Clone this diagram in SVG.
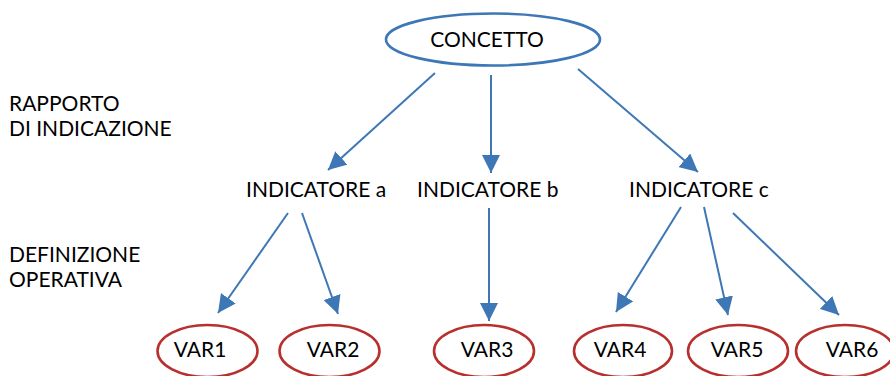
<svg xmlns="http://www.w3.org/2000/svg" width="890" height="376" viewBox="0 0 890 376">
<style>
text{font-family:Lato,"Open Sans","Liberation Sans",sans-serif;font-size:21px;fill:#000}
.c{text-anchor:middle}
.blue{fill:#fff;stroke:#3d77b6;stroke-width:2.6}
.red{fill:#fff;stroke:#b8302e;stroke-width:2.6}
.ln{stroke:#3d77b6;stroke-width:2;fill:none;marker-end:url(#ah)}
</style>
<defs>
<marker id="ah" markerUnits="userSpaceOnUse" markerWidth="18" markerHeight="18" viewBox="0 0 16 16" refX="16" refY="8" orient="auto">
<path d="M0,0 L16,8 L0,16 Z" fill="#3d77b6"/>
</marker>
</defs>
<rect width="890" height="376" fill="#fff"/>
<g id="labels">
<text x="9" y="111">RAPPORTO</text>
<text x="9" y="136">DI INDICAZIONE</text>
<text x="9" y="262">DEFINIZIONE</text>
<text x="9" y="287">OPERATIVA</text>
</g>
<g id="connectors">
<line class="ln" x1="435" y1="73" x2="328" y2="170"/>
<line class="ln" x1="491" y1="75" x2="491" y2="173"/>
<line class="ln" x1="578" y1="69" x2="698" y2="172"/>
<line class="ln" x1="288" y1="213" x2="218" y2="313"/>
<line class="ln" x1="302" y1="213" x2="338" y2="314"/>
<line class="ln" x1="489" y1="208" x2="489" y2="321"/>
<line class="ln" x1="681" y1="207" x2="616" y2="312"/>
<line class="ln" x1="704" y1="207" x2="728" y2="315"/>
<line class="ln" x1="733" y1="213" x2="839" y2="315"/>
</g>
<g id="concetto">
<ellipse class="blue" cx="493" cy="39.5" rx="107" ry="26"/>
<text class="c" x="487" y="47">CONCETTO</text>
</g>
<g id="indicatore-a"><text x="246" y="197">INDICATORE a</text></g>
<g id="indicatore-b"><text x="417" y="197">INDICATORE b</text></g>
<g id="indicatore-c"><text x="629" y="197">INDICATORE c</text></g>
<g id="var1"><ellipse class="red" cx="207.5" cy="351" rx="50" ry="26"/><text class="c" x="200" y="357">VAR1</text></g>
<g id="var2"><ellipse class="red" cx="329.5" cy="351" rx="50" ry="26"/><text class="c" x="333" y="357">VAR2</text></g>
<g id="var3"><ellipse class="red" cx="484" cy="351" rx="50" ry="26"/><text class="c" x="487" y="357">VAR3</text></g>
<g id="var4"><ellipse class="red" cx="623" cy="351" rx="49" ry="26"/><text class="c" x="620" y="357">VAR4</text></g>
<g id="var5"><ellipse class="red" cx="738" cy="351" rx="50" ry="26"/><text class="c" x="737" y="357">VAR5</text></g>
<g id="var6"><ellipse class="red" cx="845" cy="351" rx="49" ry="26"/><text class="c" x="852" y="357">VAR6</text></g>
</svg>
